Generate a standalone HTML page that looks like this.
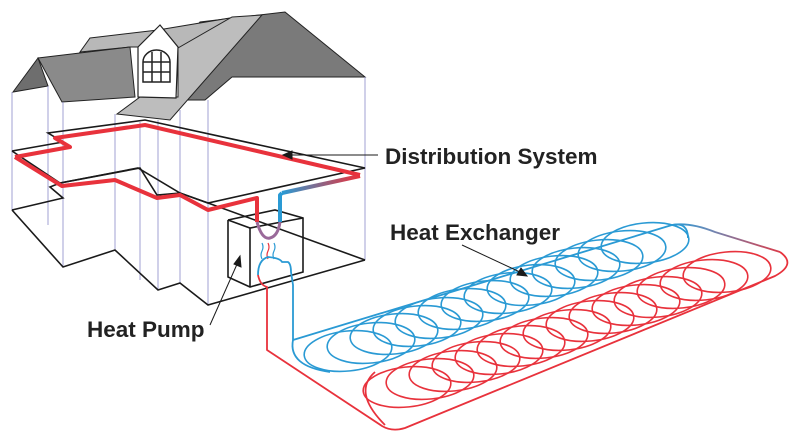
<!DOCTYPE html>
<html><head><style>html,body{margin:0;padding:0;background:#fff}svg{display:block}</style></head>
<body>
<svg width="800" height="440" viewBox="0 0 800 440" xmlns="http://www.w3.org/2000/svg">
<defs>
<linearGradient id="g1" x1="358" y1="178" x2="282" y2="193" gradientUnits="userSpaceOnUse"><stop offset="0" stop-color="#e8323c"/><stop offset="1" stop-color="#2a9ad4"/></linearGradient>
<linearGradient id="g2" x1="672" y1="225" x2="787" y2="262" gradientUnits="userSpaceOnUse"><stop offset="0" stop-color="#2a9ad4"/><stop offset="0.3" stop-color="#6a8ab8"/><stop offset="1" stop-color="#e8323c"/></linearGradient>
</defs>
<polygon points="285,12 365,77 232,77 205,100 178,100 178,48 200,22" fill="#7a7a7a" stroke="#222" stroke-width="1"/>
<polygon points="90,38 158,30 230,18 232,42 178,48 138,47 130,47 80,52" fill="#b8b8b8" stroke="#222" stroke-width="1"/>
<polygon points="38,58 13,92 48,86" fill="#6e6e6e" stroke="#222" stroke-width="1"/>
<polygon points="38,58 130,47 135,97 62,102" fill="#8a8a8a" stroke="#222" stroke-width="1"/>
<polygon points="232,17 262,15 170,120 117,114 140,97 178,97 178,48" fill="#bdbdbd" stroke="#222" stroke-width="1"/>
<polygon points="160,25 138,47 138,97 176,98 178,47" fill="#fff" stroke="#222" stroke-width="1.2"/>
<path d="M143,82 V62 A13.5,12 0 0 1 170,62 V82 Z M152,52 V82 M161,52 V82 M143,62 H170 M143,72 H170" fill="none" stroke="#222" stroke-width="1.5"/>
<g stroke="#8a8ac8" stroke-width="0.8">
<line x1="12" y1="92" x2="12" y2="210"/><line x1="48" y1="86" x2="48" y2="225"/><line x1="63" y1="102" x2="63" y2="267"/>
<line x1="115" y1="114" x2="115" y2="250"/><line x1="140" y1="122" x2="140" y2="280"/><line x1="158" y1="120" x2="158" y2="290"/>
<line x1="180" y1="110" x2="180" y2="283"/><line x1="208" y1="100" x2="208" y2="305"/><line x1="365" y1="77" x2="365" y2="260"/>
</g>
<g fill="none" stroke="#1a1a1a" stroke-width="1.6" stroke-linejoin="miter">
<polyline points="12,210 63,267 115,250 158,290 180,283 208,305 365,260"/>
<polyline points="12,210 63,198 50,187 60,183 138,168 180,193 208,203"/>
<polyline points="12,151 63,142 48,133 145,120 365,168 208,203 180,193 157,195 140,168 60,183 12,151"/>
<polyline points="208,203 365,260"/>
<polyline points="228,220 275,210 303,218 303,272 250,287 228,277 228,220"/>
<polyline points="228,220 250,228 303,218"/><line x1="250" y1="228" x2="250" y2="287"/>
</g>
<g fill="none" stroke-width="4" stroke-linejoin="round">
<polyline stroke="#e8323c" points="15,157 70,147 55,138 145,125 360,175"/>
<polyline stroke="#e8323c" points="15,157 62,186 115,180 157,198 180,195 208,210 257,198 257,222"/>
<polyline stroke="url(#g1)" points="360,176 282,193"/>
<polyline stroke="#2a9ad4" points="282,193 280,195 280,222"/>
</g>
<path d="M257,222 Q262,240 270,238 Q278,236 280,222" fill="none" stroke="#9a6a9a" stroke-width="3"/>
<g stroke-width="1.2" fill="none">
<path d="M262,243 q2,4 0,8 q-2,4 0,8" stroke="#2a9ad4"/><path d="M268,243 q2,4 0,8 q-2,4 0,8" stroke="#e8323c"/><path d="M274,243 q2,4 0,8 q-2,4 0,8" stroke="#2a9ad4"/>
</g>
<g fill="none" stroke-width="1.8" stroke-linejoin="round">
<path d="M258,275 Q258,260 268,257 Q280,258 282,262 L288,262 Q291,264 291,272 L293,285 L293,340 L672,225" stroke="#2a9ad4"/>
<path d="M293,340 Q288,366 330,372" stroke="#2a9ad4"/>
<path d="M672,225 Q688,222 688,238" stroke="#2a9ad4"/>
<path d="M672,225 Q690,222 715,232 L780,252" stroke="url(#g2)"/>
<path d="M258,275 Q260,285 267,287 L267,350 L382,426 Q392,432 405,428 L775,276 Q797,264 780,252" stroke="#e8323c"/>
<path d="M375,372 Q352,392 385,425" stroke="#e8323c"/>
</g>
<g fill="none" stroke="#2a9ad4" stroke-width="1.6">
<ellipse cx="348" cy="351" rx="44" ry="20" transform="rotate(-6 348 351)"/>
<ellipse cx="371" cy="343" rx="44" ry="20" transform="rotate(-6 371 343)"/>
<ellipse cx="394" cy="334" rx="44" ry="20" transform="rotate(-6 394 334)"/>
<ellipse cx="417" cy="326" rx="44" ry="20" transform="rotate(-6 417 326)"/>
<ellipse cx="439" cy="318" rx="44" ry="20" transform="rotate(-6 439 318)"/>
<ellipse cx="462" cy="309" rx="44" ry="20" transform="rotate(-6 462 309)"/>
<ellipse cx="485" cy="301" rx="44" ry="20" transform="rotate(-6 485 301)"/>
<ellipse cx="508" cy="293" rx="44" ry="20" transform="rotate(-6 508 293)"/>
<ellipse cx="531" cy="285" rx="44" ry="20" transform="rotate(-6 531 285)"/>
<ellipse cx="554" cy="276" rx="44" ry="20" transform="rotate(-6 554 276)"/>
<ellipse cx="576" cy="268" rx="44" ry="20" transform="rotate(-6 576 268)"/>
<ellipse cx="599" cy="260" rx="44" ry="20" transform="rotate(-6 599 260)"/>
<ellipse cx="622" cy="251" rx="44" ry="20" transform="rotate(-6 622 251)"/>
<ellipse cx="645" cy="243" rx="44" ry="20" transform="rotate(-6 645 243)"/>
</g>
<g fill="none" stroke="#e8323c" stroke-width="1.6">
<ellipse cx="407" cy="387" rx="44" ry="20" transform="rotate(-6 407 387)"/>
<ellipse cx="430" cy="379" rx="44" ry="20" transform="rotate(-6 430 379)"/>
<ellipse cx="453" cy="371" rx="44" ry="20" transform="rotate(-6 453 371)"/>
<ellipse cx="476" cy="362" rx="44" ry="20" transform="rotate(-6 476 362)"/>
<ellipse cx="499" cy="354" rx="44" ry="20" transform="rotate(-6 499 354)"/>
<ellipse cx="521" cy="346" rx="44" ry="20" transform="rotate(-6 521 346)"/>
<ellipse cx="544" cy="338" rx="44" ry="20" transform="rotate(-6 544 338)"/>
<ellipse cx="567" cy="330" rx="44" ry="20" transform="rotate(-6 567 330)"/>
<ellipse cx="590" cy="321" rx="44" ry="20" transform="rotate(-6 590 321)"/>
<ellipse cx="613" cy="313" rx="44" ry="20" transform="rotate(-6 613 313)"/>
<ellipse cx="636" cy="305" rx="44" ry="20" transform="rotate(-6 636 305)"/>
<ellipse cx="658" cy="297" rx="44" ry="20" transform="rotate(-6 658 297)"/>
<ellipse cx="681" cy="288" rx="44" ry="20" transform="rotate(-6 681 288)"/>
<ellipse cx="704" cy="280" rx="44" ry="20" transform="rotate(-6 704 280)"/>
<ellipse cx="727" cy="272" rx="44" ry="20" transform="rotate(-6 727 272)"/>
</g>
<g stroke="#1a1a1a" stroke-width="1" fill="#1a1a1a">
<line x1="378" y1="155" x2="288" y2="155"/><polygon points="283,155 292,151 292,159"/>
<line x1="462" y1="245" x2="522" y2="273"/><polygon points="527,276 517,275 521,268"/>
<line x1="210" y1="325" x2="238" y2="262"/><polygon points="240,256 241,267 234,264"/>
</g>
<g font-family="Liberation Sans, sans-serif" font-weight="bold" font-size="22.5" fill="#222">
<text x="385" y="164">Distribution System</text>
<text x="390" y="240">Heat Exchanger</text>
<text x="87" y="337">Heat Pump</text>
</g>
</svg>
</body></html>
